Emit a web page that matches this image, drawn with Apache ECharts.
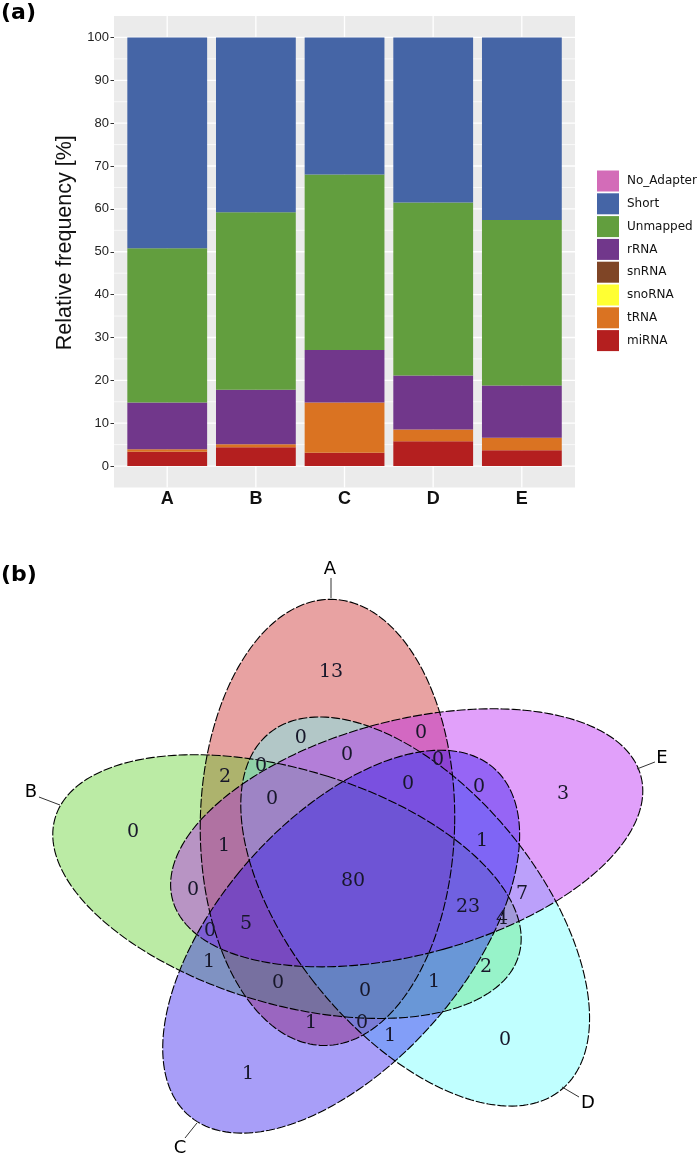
<!DOCTYPE html>
<html>
<head>
<meta charset="utf-8">
<script src="https://cdn.jsdelivr.net/npm/echarts@6/dist/echarts.min.js"></script>
<style>html,body{margin:0;padding:0;background:#fff}#c{width:697px;height:1163px}</style>
</head>
<body>
<div id="c"></div>
<script>
// ---------- panel (a) data ----------
const categories = ['A', 'B', 'C', 'D', 'E'];
const yTicks = [0, 10, 20, 30, 40, 50, 60, 70, 80, 90, 100];
const miRNA      = [3.3, 4.4, 3.1, 5.8, 3.7];
const tRNA       = [0.6, 0.7, 11.7, 2.7, 2.9];
const snoRNA     = [0, 0, 0, 0, 0];
const snRNA      = [0, 0, 0, 0, 0];
const rRNA       = [10.9, 12.7, 12.3, 12.6, 12.2];
const Unmapped   = [36.0, 41.4, 40.9, 40.4, 38.6];
const Short      = [49.2, 40.8, 32.0, 38.5, 42.6];
const No_Adapter = [0, 0, 0, 0, 0];

// ---------- panel (b) data ----------
const vennSets = ['A', 'B', 'C', 'D', 'E'];
const vennCounts = [13, 0, 1, 0, 3, 80, 0, 0, 2, 0, 0, 0, 0, 0, 0, 1, 1, 0, 7, 23, 4, 0, 5, 1, 2, 0, 0, 1, 1, 0, 1];

// ---------- layout (venn coordinate space) ----------
const vennLabelPos = [
  [0.4538, 0.9289], [0.0802, 0.599], [0.2972, 0.100], [0.782, 0.170], [0.8915, 0.677],
  [0.4953, 0.498], [0.397, 0.793], [0.6236, 0.803], [0.2538, 0.7124], [0.3217, 0.735],
  [0.484, 0.7577], [0.6557, 0.7474], [0.3425, 0.667], [0.599, 0.698], [0.733, 0.6918],
  [0.2519, 0.570], [0.7387, 0.5804], [0.1934, 0.4794], [0.8142, 0.4711], [0.7123, 0.4443],
  [0.7764, 0.4196], [0.2255, 0.3948], [0.2934, 0.4093], [0.2236, 0.3309], [0.7462, 0.3206],
  [0.3538, 0.2876], [0.5179, 0.2711], [0.6481, 0.2897], [0.416, 0.2052], [0.5123, 0.2052],
  [0.5651, 0.1784]
];
const vennSetLabelPos = [[0.4519, 1.1412], [-0.1123, 0.6814], [0.1689, -0.0526], [0.9387, 0.0402], [1.0783, 0.7515]];
const vennConnectors = [
  [0.4538, 1.1227, 0.4538, 1.0814],
  [-0.0972, 0.6711, -0.0575, 0.6546],
  [0.1783, -0.032, 0.2009, -0.001],
  [0.8896, 0.0732, 0.9217, 0.0526],
  [1.0311, 0.7289, 1.065, 0.7433]
];
const vennSlot = [0, 4, 3, 2, 1];        // A top, then clockwise E, D, C, B
const vennDrawOrder = [0, 1, 3, 4, 2];   // A, B, D, E, C
const vennFill = ['rgba(197,22,22,0.4)', 'rgba(85,205,30,0.4)', 'rgba(37,12,237,0.4)', 'rgba(97,255,255,0.4)', 'rgba(180,17,242,0.4)'];
const ell = { dist: 0.13, a: 0.24, b: 0.46, theta0: -24, phi0: 1 };

function ellipsePoints(setIdx, api) {
  const s = vennSlot[setIdx];
  const th = (ell.theta0 + 72 * s) * Math.PI / 180;
  const ph = (ell.phi0 + 72 * s) * Math.PI / 180;
  const cx = 0.5 + ell.dist * Math.sin(th), cy = 0.5 + ell.dist * Math.cos(th);
  const ux = Math.sin(ph), uy = Math.cos(ph), vx = Math.cos(ph), vy = -Math.sin(ph);
  const pts = [];
  for (let k = 0; k < 240; k++) {
    const t = 2 * Math.PI * k / 240;
    const x = cx + ell.a * Math.cos(t) * vx + ell.b * Math.sin(t) * ux;
    const y = cy + ell.a * Math.cos(t) * vy + ell.b * Math.sin(t) * uy;
    pts.push(api.coord([x, y]));
  }
  return pts;
}

const seriesDefs = [
  ['miRNA', miRNA, '#B41F1F'],
  ['tRNA', tRNA, '#DA7322'],
  ['snoRNA', snoRNA, '#FFFF33'],
  ['snRNA', snRNA, '#7F4526'],
  ['rRNA', rRNA, '#71378B'],
  ['Unmapped', Unmapped, '#629E3E'],
  ['Short', Short, '#4565A6'],
  ['No_Adapter', No_Adapter, '#D36CB8']
];

const minorLines = yTicks.slice(0, -1).map((v, i) => (v + yTicks[i + 1]) / 2);

const chart = echarts.init(document.getElementById('c'), null, { renderer: 'canvas' });
const option = {
  animation: false,
  backgroundColor: '#ffffff',
  title: [
    { text: '(a)', left: 1, top: 2, padding: 0, textStyle: { fontFamily: 'DejaVu Sans', fontWeight: 'bold', fontSize: 22, color: '#000' } },
    { text: '(b)', left: 1, top: 564, padding: 0, textStyle: { fontFamily: 'DejaVu Sans', fontWeight: 'bold', fontSize: 22, color: '#000' } }
  ],
  legend: {
    data: ['No_Adapter', 'Short', 'Unmapped', 'rRNA', 'snRNA', 'snoRNA', 'tRNA', 'miRNA'],
    orient: 'vertical', left: 597, top: 170.5, padding: 0,
    itemWidth: 22, itemHeight: 21, itemGap: 1.8, icon: 'rect', selectedMode: false,
    textStyle: { fontFamily: 'DejaVu Sans', fontSize: 12, color: '#111', padding: [0, 0, 0, 3] }
  },
  grid: [
    { left: 114, top: 16, width: 461, height: 471.5, show: true, backgroundColor: '#EBEBEB', borderWidth: 0 },
    { left: 122.9, top: 37.5, width: 443.3, height: 428.5 },
    { left: 5.7, top: 559.9, width: 689, height: 591.7 }
  ],
  xAxis: [
    { gridIndex: 0, type: 'value', min: 0.4, max: 5.6, show: false },
    { gridIndex: 1, type: 'category', data: categories,
      axisLine: { show: false }, axisTick: { show: false }, splitLine: { show: false },
      axisLabel: { margin: 24, fontSize: 18, fontWeight: 'bold', color: '#111', fontFamily: 'Liberation Sans' } },
    { gridIndex: 2, type: 'value', min: -0.16, max: 1.14, show: false }
  ],
  yAxis: [
    { gridIndex: 0, type: 'value', min: -5, max: 105, show: false },
    { gridIndex: 1, type: 'value', min: 0, max: 100, interval: 10, offset: 8.9,
      axisLine: { show: false }, axisTick: { show: true, length: 3.5, lineStyle: { color: '#333', width: 1 } },
      splitLine: { show: false },
      axisLabel: { margin: 5, fontSize: 13, color: '#222', fontFamily: 'Liberation Sans' },
      name: 'Relative frequency [%]', nameLocation: 'middle', nameGap: 29,
      nameTextStyle: { fontSize: 21.5, fontFamily: 'Liberation Sans', color: '#111', padding: [0, 0, 0, 18] } },
    { gridIndex: 2, type: 'value', min: -0.06, max: 1.16, show: false }
  ],
  series: [
    // panel grid lines
    { type: 'custom', xAxisIndex: 0, yAxisIndex: 0, silent: true, z: 1,
      data: yTicks.map(v => [v, 1]).concat(minorLines.map(v => [v, 0])),
      encode: { x: -1, y: 0 },
      renderItem: (p, api) => {
        const v = api.value(0), major = api.value(1) === 1;
        const a = api.coord([0.4, v]), b = api.coord([5.6, v]);
        return { type: 'line', shape: { x1: a[0], y1: a[1], x2: b[0], y2: b[1] }, style: { stroke: '#fff', lineWidth: major ? 1.3 : 0.7 } };
      } },
    { type: 'custom', xAxisIndex: 0, yAxisIndex: 0, silent: true, z: 1,
      data: categories.map((c, i) => [i + 1, 0]),
      renderItem: (p, api) => {
        const x = api.value(0);
        const a = api.coord([x, -5]), b = api.coord([x, 105]);
        return { type: 'line', shape: { x1: a[0], y1: a[1], x2: b[0], y2: b[1] }, style: { stroke: '#fff', lineWidth: 1.3 } };
      } }
  ].concat(seriesDefs.map(([name, data, color]) => ({
    name, type: 'bar', stack: 'total', xAxisIndex: 1, yAxisIndex: 1, barWidth: '90%', z: 3,
    data, itemStyle: { color }, emphasis: { disabled: true }, silent: true
  }))).concat([
    // venn fills
    { type: 'custom', xAxisIndex: 2, yAxisIndex: 2, silent: true, z: 4,
      data: vennDrawOrder.map(i => [0.5, 0.5, i]), encode: { x: 0, y: 1 },
      renderItem: (p, api) => {
        const i = api.value(2);
        return { type: 'polygon', shape: { points: ellipsePoints(i, api) }, style: { fill: vennFill[i] } };
      } },
    // venn outlines
    { type: 'custom', xAxisIndex: 2, yAxisIndex: 2, silent: true, z: 5,
      data: vennSets.map((s, i) => [0.5, 0.5, i]), encode: { x: 0, y: 1 },
      renderItem: (p, api) => ({ type: 'polygon', shape: { points: ellipsePoints(api.value(2), api) }, style: { fill: 'none', stroke: '#000', lineWidth: 1.1, lineDash: [9, 2] } }) },
    // connectors
    { type: 'custom', xAxisIndex: 2, yAxisIndex: 2, silent: true, z: 5,
      data: vennConnectors, encode: { x: 0, y: 1 },
      renderItem: (p, api) => {
        const a = api.coord([api.value(0), api.value(1)]), b = api.coord([api.value(2), api.value(3)]);
        return { type: 'line', shape: { x1: a[0], y1: a[1], x2: b[0], y2: b[1] }, style: { stroke: '#333', lineWidth: 1 } };
      } },
    // set names
    { type: 'custom', xAxisIndex: 2, yAxisIndex: 2, silent: true, z: 6,
      data: vennSetLabelPos, encode: { x: 0, y: 1 },
      renderItem: (p, api) => {
        const pt = api.coord([api.value(0), api.value(1)]);
        return { type: 'text', x: pt[0], y: pt[1], style: { text: vennSets[p.dataIndex], fill: '#000', font: '18px "DejaVu Sans"', align: 'center', verticalAlign: 'middle', textAlign: 'center', textVerticalAlign: 'middle' } };
      } },
    // region counts
    { type: 'custom', xAxisIndex: 2, yAxisIndex: 2, silent: true, z: 6,
      data: vennLabelPos.map((q, i) => [q[0], q[1], vennCounts[i]]), encode: { x: 0, y: 1 },
      renderItem: (p, api) => {
        const pt = api.coord([api.value(0), api.value(1)]);
        return { type: 'text', x: pt[0], y: pt[1], style: { text: String(api.value(2)), fill: '#17172a', font: '19px "DejaVu Serif"', align: 'center', verticalAlign: 'middle', textAlign: 'center', textVerticalAlign: 'middle' } };
      } }
  ])
};
chart.setOption(option);
</script>
</body>
</html>
